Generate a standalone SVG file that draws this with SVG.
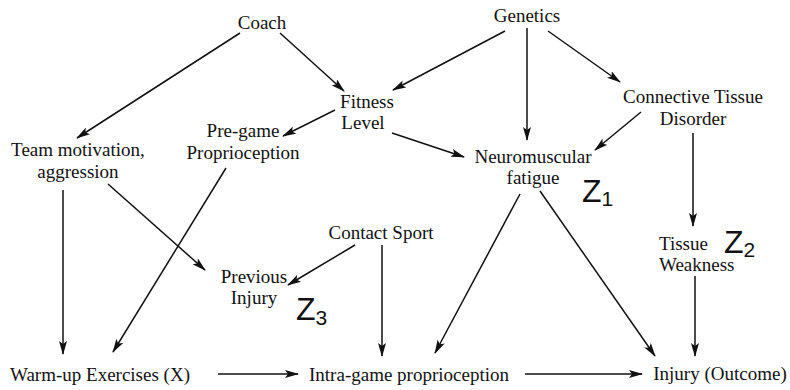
<svg xmlns="http://www.w3.org/2000/svg" width="790" height="390" viewBox="0 0 790 390">
  <style>
    .lbl { font-family: "Liberation Serif", "Times New Roman", serif; font-size: 19px; fill: #111; text-anchor: middle; }
    .left { text-anchor: start; }
    .z { font-family: "Liberation Sans", Arial, sans-serif; font-size: 32px; fill: #111; }
    .zs { font-size: 21px; }
    .edge { stroke: #111; stroke-width: 1.5; fill: none; marker-end: url(#arrow); }
  </style>
  <defs>
    <marker id="arrow" viewBox="0 0 14 8" refX="13" refY="4" markerWidth="14" markerHeight="8" markerUnits="userSpaceOnUse" orient="auto">
      <path d="M0,0 L14,4 L0,8 L3,4 Z" fill="#111"/>
    </marker>
  </defs>
  <rect width="790" height="390" fill="#fff"/>

  <g id="connectors">
    <line class="edge" x1="240" y1="33" x2="77" y2="138"/>
    <line class="edge" x1="280" y1="33" x2="344" y2="91"/>
    <line class="edge" x1="335" y1="110" x2="283" y2="136"/>
    <line class="edge" x1="392" y1="133" x2="464" y2="157"/>
    <line class="edge" x1="505" y1="31" x2="393" y2="90"/>
    <line class="edge" x1="527" y1="28" x2="527" y2="140"/>
    <line class="edge" x1="548" y1="31" x2="620" y2="82"/>
    <line class="edge" x1="641" y1="112" x2="595" y2="150"/>
    <line class="edge" x1="693" y1="133" x2="693" y2="226"/>
    <line class="edge" x1="695" y1="276" x2="695" y2="356"/>
    <line class="edge" x1="520" y1="194" x2="435" y2="353"/>
    <line class="edge" x1="540" y1="191" x2="655" y2="356"/>
    <line class="edge" x1="63" y1="190" x2="63" y2="354"/>
    <line class="edge" x1="108" y1="184" x2="205" y2="270"/>
    <line class="edge" x1="226" y1="168" x2="113" y2="352"/>
    <line class="edge" x1="355" y1="245" x2="288" y2="285"/>
    <line class="edge" x1="382" y1="245" x2="382" y2="356"/>
    <line class="edge" x1="218" y1="374" x2="298" y2="374"/>
    <line class="edge" x1="525" y1="374" x2="642" y2="374"/>
  </g>

  <g id="coach"><text class="lbl" x="262" y="29">Coach</text></g>
  <g id="genetics"><text class="lbl" x="527" y="22">Genetics</text></g>
  <g id="fitness"><text class="lbl" x="367" y="108">Fitness</text><text class="lbl" x="363" y="129">Level</text></g>
  <g id="pregame"><text class="lbl" x="243" y="137">Pre-game</text><text class="lbl" x="243" y="159">Proprioception</text></g>
  <g id="team"><text class="lbl" x="78" y="156">Team motivation,</text><text class="lbl" x="78" y="178">aggression</text></g>
  <g id="connective"><text class="lbl" x="693" y="103">Connective Tissue</text><text class="lbl" x="693" y="125">Disorder</text></g>
  <g id="neuro">
    <text class="lbl" x="533" y="163">Neuromuscular</text><text class="lbl" x="533" y="184">fatigue</text>
    <text class="z" x="582" y="202">Z<tspan class="zs" dy="4">1</tspan></text>
  </g>
  <g id="contact"><text class="lbl" x="381" y="239">Contact Sport</text></g>
  <g id="previous">
    <text class="lbl" x="254" y="283">Previous</text><text class="lbl" x="254" y="304">Injury</text>
    <text class="z" x="296" y="320">Z<tspan class="zs" dy="5">3</tspan></text>
  </g>
  <g id="tissue">
    <text class="lbl left" x="659" y="250">Tissue</text><text class="lbl left" x="659" y="271">Weakness</text>
    <text class="z" x="724" y="253">Z<tspan class="zs" dy="4">2</tspan></text>
  </g>
  <g id="warmup"><text class="lbl" x="100" y="381">Warm-up Exercises (X)</text></g>
  <g id="intra"><text class="lbl" x="409" y="381">Intra-game proprioception</text></g>
  <g id="injury"><text class="lbl" x="720" y="380">Injury (Outcome)</text></g>
</svg>
